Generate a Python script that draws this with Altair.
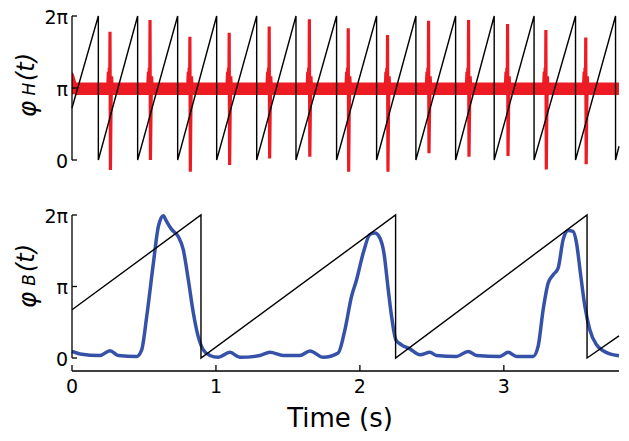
import math
import altair as alt
import pandas as pd

PI = math.pi
TWO_PI = 2 * math.pi
T_MAX = 3.80

# ---------------- top panel: heart (ECG) ----------------
heart_reset_t = [0.183, 0.456, 0.734, 1.005, 1.283, 1.556, 1.838, 2.116,
                 2.389, 2.665, 2.933, 3.210, 3.498, 3.776]
heart_phase_start = 2.27
heart_phase_end = 0.60

spike_t = [0.264, 0.542, 0.819, 1.092, 1.370, 1.649, 1.919, 2.192,
           2.477, 2.755, 3.026, 3.292, 3.569]
spike_top = [5.60, 6.11, 5.38, 5.55, 5.82, 6.14, 5.75, 5.45,
             6.08, 6.11, 5.93, 5.67, 5.34]
spike_bottom = [-0.44, 0.00, -0.51, -0.22, 0.07, 0.14, -0.51, -0.51,
                0.29, 0.14, 0.17, -0.41, -0.19]
# QRS complex shape (offset in s, value in rad)
qrs_before_dt = [-0.016, -0.011, -0.008, -0.005, -0.002]
qrs_before_v = [PI, 3.85, 2.95, 4.02, 3.05]
qrs_after_dt = [0.007, 0.011, 0.016, 0.023]
qrs_after_v = [2.25, 3.65, 2.85, PI]

# noise band of the ECG baseline
band_t = [0.0, 0.012, 0.030, 3.80]
band_hi = [3.84, 3.75, 3.38, 3.38]
band_lo = [2.84, 2.88, 2.84, 2.84]

# ---------------- bottom panel: breathing ----------------
breath_reset_t = [0.896, 2.248, 3.578]
breath_phase_start = 2.12
breath_phase_end = 0.97

breath_t = [0.0, 0.056, 0.194, 0.264, 0.322, 0.449, 0.484, 0.519, 0.565, 0.600,
            0.634, 0.657, 0.692, 0.738, 0.773, 0.808, 0.843, 0.877, 0.912, 0.958,
            1.016, 1.097, 1.167, 1.306, 1.375, 1.468, 1.583, 1.653, 1.745, 1.849,
            1.896, 1.942, 1.977, 2.023, 2.069, 2.104, 2.139, 2.167, 2.197, 2.220,
            2.250, 2.289, 2.347, 2.417, 2.486, 2.532, 2.671, 2.752, 2.810, 2.972,
            3.030, 3.088, 3.203, 3.238, 3.273, 3.308, 3.343, 3.377, 3.412, 3.447,
            3.481, 3.505, 3.532, 3.563, 3.597, 3.644, 3.690, 3.736, 3.800]
breath_v = [0.29, 0.18, 0.11, 0.32, 0.11, 0.07, 0.36, 1.82, 4.15, 5.78,
            6.25, 6.00, 5.65, 5.34, 4.76, 3.44, 1.98, 0.94, 0.36, 0.11,
            0.03, 0.25, 0.03, 0.11, 0.25, 0.11, 0.11, 0.31, 0.03, 0.22,
            1.24, 2.71, 3.44, 4.61, 5.42, 5.49, 5.27, 4.61, 3.00, 1.83,
            0.80, 0.58, 0.40, 0.14, 0.25, 0.11, 0.07, 0.29, 0.11, 0.07,
            0.25, 0.07, 0.07, 0.51, 2.12, 3.29, 3.66, 3.95, 5.20, 5.60,
            5.56, 5.05, 3.73, 2.27, 1.24, 0.58, 0.32, 0.18, 0.10]

y_tick_vals = [0, PI, TWO_PI]
y_tick_labels = ["0", "π", "2π"]
x_tick_vals = [0, 1, 2, 3]
x_tick_labels = ["0", "1", "2", "3"]
x_title = "Time (s)"

RED = "#ED1C24"
BLUE = "#3552A8"
FONT = "DejaVu Sans"

W = 547          # plot width (px)
H = 342          # both panels together (px)
TOP_RANGE = [144, 0]
BOT_RANGE = [342, 199]
AXIS_Y = 355     # x axis line position


def sawtooth(start, resets, end):
    ts, vs = [0.0], [start]
    for r in resets:
        ts += [r, r]
        vs += [TWO_PI, 0.0]
    ts.append(T_MAX)
    vs.append(end)
    return pd.DataFrame({"t": ts, "v": vs, "i": list(range(len(ts)))})


def ecg():
    ts, vs = [0.0], [PI]
    for t, top, bot in zip(spike_t, spike_top, spike_bottom):
        ts += [t + d for d in qrs_before_dt] + [t, t + 0.003] + [t + d for d in qrs_after_dt]
        vs += qrs_before_v + [top, bot] + qrs_after_v
    ts.append(T_MAX)
    vs.append(PI)
    return pd.DataFrame({"t": ts, "v": vs, "i": list(range(len(ts)))})


x_enc = alt.X("t:Q", scale=alt.Scale(domain=[0, T_MAX], nice=False, zero=False),
              axis=None, title=None)
yticks_df = pd.DataFrame({"v": y_tick_vals, "lab": y_tick_labels})
xticks_df = pd.DataFrame({"t": x_tick_vals, "lab": x_tick_labels})
one = alt.Data(values=[{}])


def y_enc(field, rng):
    return alt.Y(field, type="quantitative",
                 scale=alt.Scale(domain=[0, TWO_PI], range=rng, nice=False, zero=False),
                 axis=None, title=None)


def rot_text(txt, size, px, py):
    return alt.Chart(one).mark_text(
        text=txt, angle=270, fontSize=size, font=FONT, fontStyle="italic",
        color="black", align="center", baseline="middle"
    ).encode(x=alt.value(px), y=alt.value(py))


def y_axis_layers(rng):
    domain = alt.Chart(one).mark_rule(color="black", strokeWidth=1.3).encode(
        x=alt.value(0), y=alt.value(rng[1]), y2=alt.value(rng[0]))
    ticks = alt.Chart(yticks_df).mark_rule(color="black", strokeWidth=1.3).encode(
        y=y_enc("v", rng), x=alt.value(0), x2=alt.value(5))
    labels = alt.Chart(yticks_df).mark_text(
        fontSize=19, font=FONT, color="black", align="right", baseline="middle",
        dx=-4, dy=1.5
    ).encode(y=y_enc("v", rng), x=alt.value(0), text="lab:N")
    return [domain, ticks, labels]


# ----- top panel -----
band = alt.Chart(pd.DataFrame({"t": band_t, "lo": band_lo, "hi": band_hi})).mark_area(
    color=RED, opacity=1).encode(x=x_enc, y=y_enc("lo", TOP_RANGE), y2="hi")

red_line = alt.Chart(ecg()).mark_line(color=RED, strokeWidth=3.2).encode(
    x=x_enc, y=y_enc("v", TOP_RANGE), order="i:Q")

saw_top = alt.Chart(sawtooth(heart_phase_start, heart_reset_t, heart_phase_end)).mark_line(
    color="black", strokeWidth=1.4).encode(x=x_enc, y=y_enc("v", TOP_RANGE), order="i:Q")

top = alt.layer(
    band, red_line, saw_top, *y_axis_layers(TOP_RANGE),
    rot_text("φ", 25, -44, 93), rot_text("H", 17, -42, 73), rot_text("(t)", 24, -45, 51),
)

# ----- bottom panel -----
blue_line = alt.Chart(pd.DataFrame({"t": breath_t, "v": breath_v})).mark_line(
    color=BLUE, strokeWidth=3.5, interpolate="monotone").encode(
    x=x_enc, y=y_enc("v", BOT_RANGE))

saw_bot = alt.Chart(sawtooth(breath_phase_start, breath_reset_t, breath_phase_end)).mark_line(
    color="black", strokeWidth=1.4).encode(x=x_enc, y=y_enc("v", BOT_RANGE), order="i:Q")

x_domain = alt.Chart(one).mark_rule(color="black", strokeWidth=1.3).encode(
    x=alt.value(0), x2=alt.value(W), y=alt.value(AXIS_Y))
x_ticks = alt.Chart(xticks_df).mark_rule(color="black", strokeWidth=1.3).encode(
    x=x_enc, y=alt.value(AXIS_Y - 6), y2=alt.value(AXIS_Y))
x_labels = alt.Chart(xticks_df).mark_text(
    fontSize=19, font=FONT, color="black", align="center", baseline="alphabetic"
).encode(x=x_enc, y=alt.value(AXIS_Y + 22), text="lab:N")
x_title_mark = alt.Chart(one).mark_text(
    text=x_title, fontSize=26, font=FONT, color="black", align="center", baseline="alphabetic"
).encode(x=alt.value(268), y=alt.value(AXIS_Y + 56))

bottom = alt.layer(
    blue_line, saw_bot, *y_axis_layers(BOT_RANGE),
    x_domain, x_ticks, x_labels, x_title_mark,
    rot_text("φ", 25, -44, 284), rot_text("B", 17, -42, 264), rot_text("(t)", 24, -45, 242),
)

chart = alt.layer(top, bottom).resolve_scale(y="independent").properties(
    width=W, height=H,
    autosize=alt.AutoSizeParams(type="none"),
    padding={"left": 64, "top": 8, "right": 1, "bottom": 74},
    background="white",
).configure_view(strokeWidth=0)

chart.save("out.html", embed_options={"renderer": "svg", "actions": False})
